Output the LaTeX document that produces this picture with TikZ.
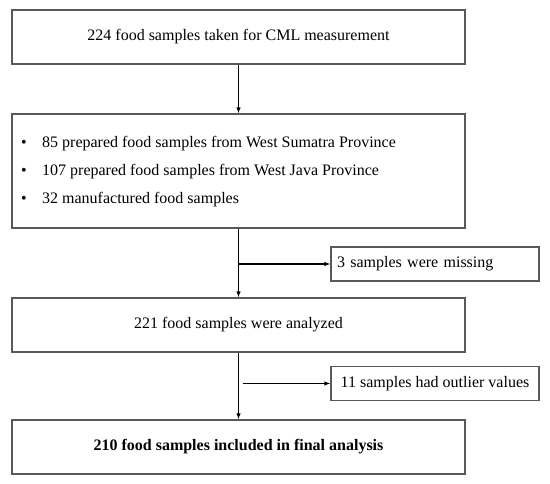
\documentclass[tikz,border=0pt]{standalone}
\usepackage{fontspec}
\setmainfont{Liberation Serif}
\usetikzlibrary{arrows.meta}

\begin{document}
\begin{tikzpicture}[x=1pt, y=-1pt, every node/.style={font=\fontsize{16}{19}\selectfont},
	box/.style={draw=black!65, line width=1.2pt, minimum width=453pt, minimum height=54pt, inner sep=0pt},
	sidebox/.style={draw=black!65, line width=1.2pt, minimum width=208pt, minimum height=34pt, inner sep=0pt},
	item/.style={anchor=base west, inner sep=0pt},
	arr/.style={-{Latex[length=6pt,width=4.5pt]}, line width=1.5pt}]
	\useasboundingbox (0,0) rectangle (550,484);
	\node[box] (total) at (238.5,37) {224 food samples taken for CML measurement};
	\node[box, minimum height=114pt] (origin) at (238.5,171) {};
	\node[item] (sumatra) at (21,148) {\makebox[21pt][l]{\textbullet}85 prepared food samples from West Sumatra Province};
	\node[item] (java) at (21,176) {\makebox[21pt][l]{\textbullet}107 prepared food samples from West Java Province};
	\node[item] (manuf) at (21,204) {\makebox[21pt][l]{\textbullet}32 manufactured food samples};
	\node[box] (analyzed) at (238.5,325) {221 food samples were analyzed};
	\node[box, font=\fontsize{16}{19}\selectfont\bfseries] (final) at (238.5,447) {210 food samples included in final analysis};
	\node[sidebox, inner xsep=6pt, text width=196pt, align=left] (missing) at (435,264) {3 samples were missing};
	\node[sidebox] (outlier) at (435,383.5) {11 samples had outlier values};
	% flow
	\draw[arr] (total) -- (origin);
	\draw[arr] (origin) -- (analyzed);
	\draw[arr] (analyzed) -- (final);
	% exclusions
	\draw[arr] (origin.south |- missing.west) -- (missing);
	\draw[arr] ([xshift=4pt]analyzed.south |- outlier.west) -- (outlier);
\end{tikzpicture}
\end{document}
